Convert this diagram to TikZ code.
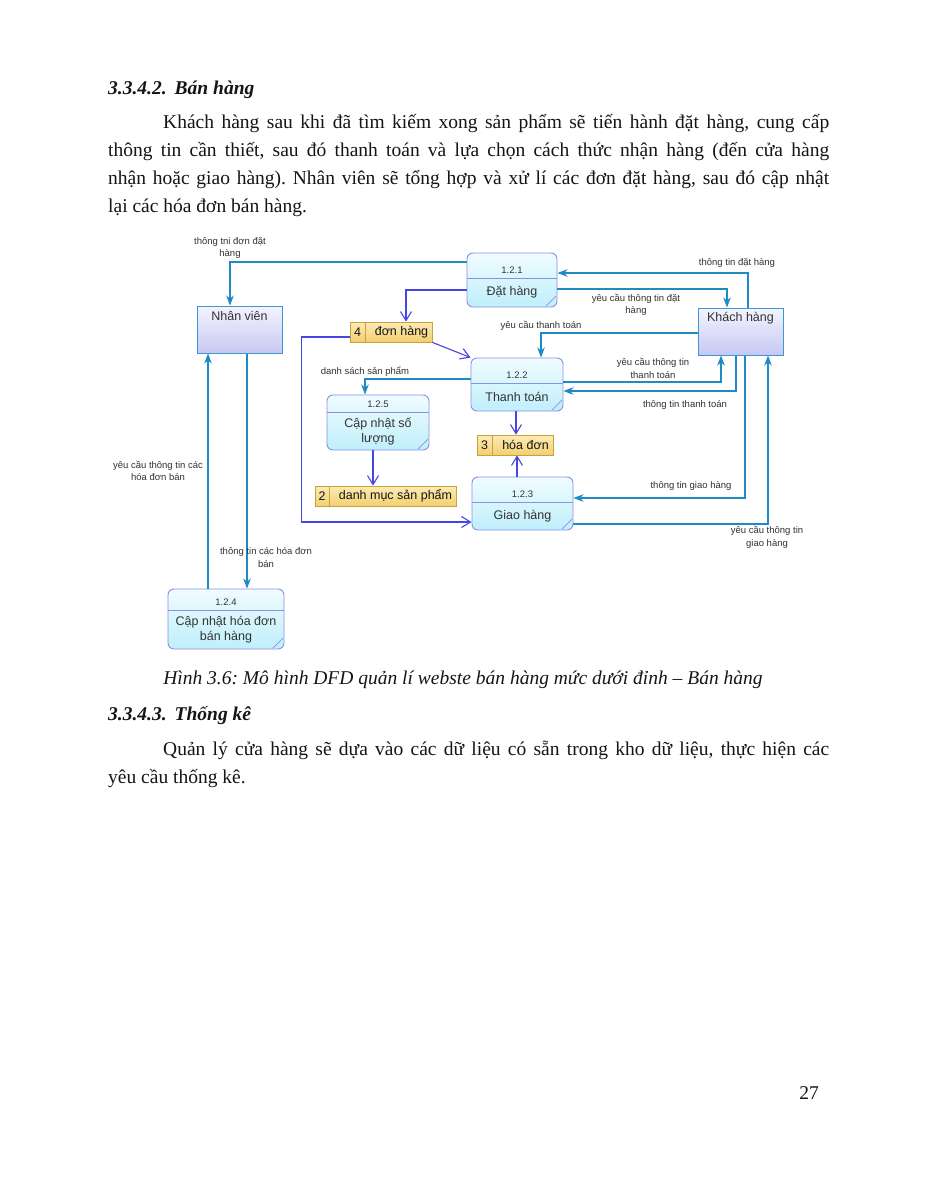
\documentclass[tikz,border=0pt]{standalone}
\usepackage{fontspec}
\setmainfont{Liberation Serif}
\newfontfamily\dfd{Liberation Sans}
\usetikzlibrary{arrows.meta}
\frenchspacing
\definecolor{procB}{HTML}{8C8FE6}
\definecolor{procT}{HTML}{F0FCFF}
\definecolor{procBot}{HTML}{BFEFFB}
\definecolor{entB}{HTML}{3A98D2}
\definecolor{entT}{HTML}{F4F4FF}
\definecolor{entBot}{HTML}{C6C8F2}
\definecolor{stoB}{HTML}{C8A240}
\definecolor{stoT}{HTML}{FCEBB4}
\definecolor{stoBot}{HTML}{F2D070}
\definecolor{flowC}{HTML}{1E8CC4}
\definecolor{flowP}{HTML}{4646E4}
\definecolor{lbl}{HTML}{333333}
\definecolor{ink}{HTML}{151515}
\newcommand{\dfdproc}[8]{%
  \node[procbox, minimum width={#4-#2}, minimum height={#5-#3}] (#1) at ({(#2+#4)/2},{(#3+#5)/2}) {};
  \draw[draw=procB, line width=0.8pt] (#2,#6) -- (#4,#6);
  \draw[draw=procB, line width=0.7pt] ({#4-1},{#5-11}) -- ({#4-11},{#5-1});
  \node[numlab] (#1n) at ({(#2+#4)/2},{#6-7.5}) {#7};
  \node[proclab] (#1t) at ({(#2+#4)/2},{(#6+#5)/2}) {#8};
}
\newcommand{\dfdstore}[7]{%
  \node[storebox, minimum width={#4-#2}, minimum height=20] (#1) at ({(#2+#4)/2},{#3+10}) {};
  \draw[draw=stoB, line width=0.8pt] (#5,#3) -- (#5,{#3+20});
  \node[storelab] (#1n) at ({(#2+#5)/2},{#3+10}) {#6};
  \node[storelab] (#1t) at ({(#5+#4)/2+3},{#3+10}) {#7};
}
\begin{document}
\begin{tikzpicture}[x=1pt,y=-1pt,
  body/.style={font=\fontsize{19.5}{28}\selectfont, text=ink, inner sep=0pt},
  cflow/.style={draw=flowC, line width=1.1pt, -{Stealth[length=10pt,width=7.5pt,inset=3pt]}},
  pflow/.style={draw=flowP, line width=1.1pt, -{Straight Barb[length=9pt,width=11pt]}},
  lab/.style={font=\dfd\fontsize{9.5}{12.5}\selectfont, text=lbl, align=center, inner sep=0pt},
  procbox/.style={draw=procB, line width=0.9pt, rounded corners=6pt, top color=procT, bottom color=procBot, inner sep=0pt},
  numlab/.style={font=\dfd\fontsize{9.5}{11}\selectfont, text=lbl, inner sep=0pt},
  proclab/.style={font=\dfd\fontsize{12.5}{15}\selectfont, text=lbl, align=center, inner sep=0pt},
  entbox/.style={draw=entB, line width=1pt, top color=entT, bottom color=entBot, inner sep=0pt},
  entlab/.style={font=\dfd\fontsize{12.5}{15}\selectfont, text=lbl, inner sep=0pt},
  storebox/.style={draw=stoB, line width=0.8pt, top color=stoT, bottom color=stoBot, inner sep=0pt},
  storelab/.style={font=\dfd\fontsize{12.5}{15}\selectfont, text=ink, inner sep=0pt}
]
\fill[white] (0,0) rectangle (927,1200);
\useasboundingbox (0,0) rectangle (927,1200);

% ---------- text above ----------
\node[body, anchor=base west, font=\fontsize{19.5}{28}\selectfont\bfseries\itshape] (h1) at (108,94) {3.3.4.2.\hspace{8pt}Bán hàng};
\node[body, anchor=base west] (l1) at (163,128) {\makebox[666pt][s]{Khách hàng sau khi đã tìm kiếm xong sản phẩm sẽ tiến hành đặt hàng, cung cấp}};
\node[body, anchor=base west] (l2) at (108,156) {\makebox[721pt][s]{thông tin cần thiết, sau đó thanh toán và lựa chọn cách thức nhận hàng (đến cửa hàng}};
\node[body, anchor=base west] (l3) at (108,184) {\makebox[721pt][s]{nhận hoặc giao hàng). Nhân viên sẽ tổng hợp và xử lí các đơn đặt hàng, sau đó cập nhật}};
\node[body, anchor=base west] (l4) at (108,212) {lại các hóa đơn bán hàng.};

% ---------- processes ----------
\dfdproc{p1}{467}{253}{557}{307}{278}{1.2.1}{Đặt hàng}
\dfdproc{p2}{471}{358}{563}{411}{383}{1.2.2}{Thanh toán}
\dfdproc{p3}{472}{477}{573}{530}{502}{1.2.3}{Giao hàng}
\dfdproc{p4}{168}{589}{284}{649}{610}{1.2.4}{Cập nhật hóa đơn\\bán hàng}
\dfdproc{p5}{327}{395}{429}{450}{412}{1.2.5}{Cập nhật số\\lượng}

% ---------- external entities ----------
\node[entbox, minimum width=85, minimum height=47] (nv) at (239.5,329.5) {};
\node[entlab] (nvt) at (239.5,316) {Nhân viên};
\node[entbox, minimum width=85, minimum height=47] (kh) at (740.5,331.5) {};
\node[entlab] (kht) at (740.5,318) {Khách hàng};

% ---------- data stores ----------
\dfdstore{s4}{350}{322}{432}{365}{4}{đơn hàng}
\dfdstore{s3}{477}{435}{553}{492}{3}{hóa đơn}
\dfdstore{s2}{315}{486}{456}{329}{2}{danh mục sản phẩm}

% ---------- flows ----------
\draw[cflow] ([yshift=18pt]p1.west) -| ([xshift=-9.5pt]nv.north);
\draw[pflow] ([yshift=-10pt]p1.west) -| ([xshift=15pt]s4.north);
\draw[cflow] ([xshift=7.5pt]kh.north) |- ([yshift=7pt]p1.east);
\draw[cflow] ([yshift=-9pt]p1.east) -| ([xshift=-13.5pt]kh.north);
\draw[cflow] ([yshift=-1.5pt]kh.west) -| ([xshift=24pt]p2.north);
\draw[cflow] ([yshift=2.5pt]p2.east) -| ([xshift=-19.5pt]kh.south);
\draw[cflow] ([xshift=-4.5pt]kh.south) |- ([yshift=-6.5pt]p2.east);
\draw[cflow] ([xshift=4.5pt]kh.south) |- ([yshift=5.5pt]p3.east);
\draw[cflow] ([yshift=-20.5pt]p3.east) -| ([xshift=27.5pt]kh.south);
\draw[pflow] (s4.south east) -- (p2.north west);
\draw[pflow] ([yshift=-5pt]s4.west) -- ++(-48,0) |- ([yshift=-18.5pt]p3.west);
\draw[cflow] ([yshift=5.5pt]p2.west) -| ([xshift=-13pt]p5.north);
\draw[pflow] ([xshift=-1pt]p2.south) -- ([xshift=1pt]s3.north);
\draw[pflow] ([xshift=-5.5pt]p3.north) -- ([xshift=2pt]s3.south);
\draw[pflow] ([xshift=-5pt]p5.south) -- ([xshift=-12.5pt]s2.north);
\draw[cflow] ([xshift=-18pt]p4.north) -- ([xshift=-31.5pt]nv.south);
\draw[cflow] ([xshift=7.5pt]nv.south) -- ([xshift=21pt]p4.north);

% ---------- flow labels ----------
\node[lab] (t1) at (230,248) {thông tni đơn đặt\\hàng};
\node[lab] (t3) at (737,263) {thông tin đặt hàng};
\node[lab] (t4) at (636,305) {yêu cầu thông tin đặt\\hàng};
\node[lab] (t5) at (541,326) {yêu cầu thanh toán};
\node[lab] (t6) at (653,368.5) {yêu cầu thông tin\\thanh toán};
\node[lab] (t7) at (685,405) {thông tin thanh toán};
\node[lab] (t8) at (691,486) {thông tin giao hàng};
\node[lab] (t9) at (767,537.5) {yêu cầu thông tin\\giao hàng};
\node[lab] (t12) at (365,372) {danh sách sản phẩm};
\node[lab] (t16) at (158,471) {yêu cầu thông tin các\\hóa đơn bán};
\node[lab] (t17) at (266,557.5) {thông tin các hóa đơn\\bán};

% ---------- text below ----------
\node[body, anchor=base, font=\fontsize{19.5}{28}\selectfont\itshape] (cap) at (463,684) {Hình 3.6: Mô hình DFD quản lí webste bán hàng mức dưới đỉnh – Bán hàng};
\node[body, anchor=base west, font=\fontsize{19.5}{28}\selectfont\bfseries\itshape] (h2) at (108,720) {3.3.4.3.\hspace{8pt}Thống kê};
\node[body, anchor=base west] (m1) at (163,755) {\makebox[666pt][s]{Quản lý cửa hàng sẽ dựa vào các dữ liệu có sẵn trong kho dữ liệu, thực hiện các}};
\node[body, anchor=base west] (m2) at (108,783) {yêu cầu thống kê.};
\node[body, anchor=base] (pg) at (809,1099) {27};
\end{tikzpicture}
\end{document}
